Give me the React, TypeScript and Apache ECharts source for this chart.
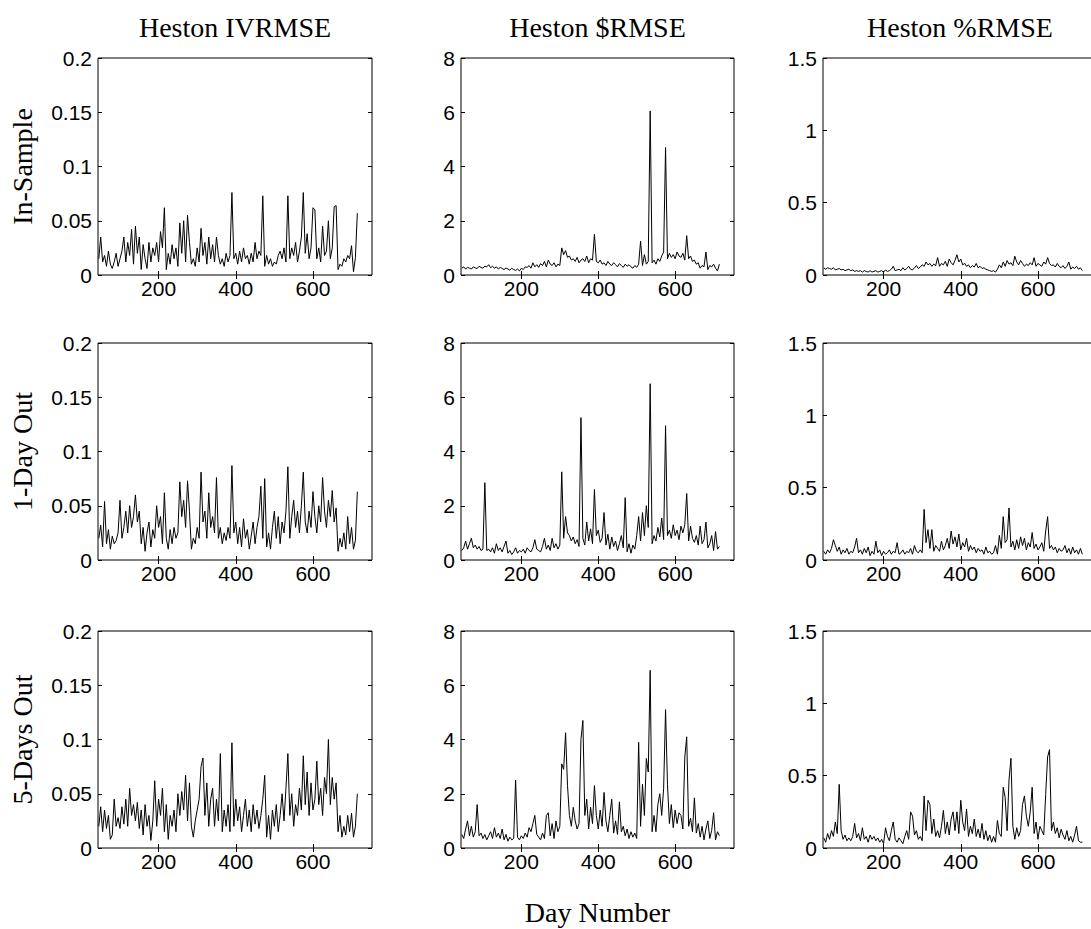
import React, { useEffect, useRef } from "react";
import * as echarts from "echarts";

// Sampled every DAY_STEP days starting at FIRST_DAY
const FIRST_DAY = 45;
const DAY_STEP = 5;
const X_MIN = 43;
const X_MAX = 753;
const X_TICKS = [200, 400, 600];

const COLUMN_TITLES = ["Heston IVRMSE", "Heston $RMSE", "Heston %RMSE"];
const ROW_NAMES = ["In-Sample", "1-Day Out", "5-Days Out"];
const Y_MAX = [0.2, 8, 1.5];
const Y_STEP = [0.05, 2, 0.5];

// Implied-volatility RMSE
const IV_IN_SAMPLE = [
  0.015, 0.035, 0.012, 0.018, 0.008, 0.022, 0.010, 0.006, 0.012, 0.020,
  0.008, 0.015, 0.022, 0.035, 0.012, 0.030, 0.018, 0.042, 0.010, 0.045,
  0.020, 0.035, 0.005, 0.028, 0.015, 0.006, 0.030, 0.012, 0.025, 0.018,
  0.030, 0.012, 0.040, 0.025, 0.062, 0.005, 0.020, 0.010, 0.028, 0.015,
  0.025, 0.008, 0.048, 0.020, 0.050, 0.012, 0.055, 0.030, 0.010, 0.015,
  0.008, 0.025, 0.012, 0.043, 0.018, 0.030, 0.010, 0.035, 0.015, 0.028,
  0.012, 0.035, 0.018, 0.010, 0.015, 0.008, 0.020, 0.012, 0.018, 0.076,
  0.015, 0.020, 0.010, 0.022, 0.012, 0.025, 0.015, 0.018, 0.010, 0.020,
  0.012, 0.030, 0.015, 0.022, 0.018, 0.073, 0.008, 0.018, 0.010, 0.015,
  0.008, 0.012, 0.010, 0.018, 0.022, 0.015, 0.025, 0.012, 0.073, 0.015,
  0.025, 0.018, 0.030, 0.012, 0.022, 0.035, 0.076, 0.020, 0.038, 0.015,
  0.025, 0.062, 0.060, 0.015, 0.025, 0.012, 0.045, 0.018, 0.022, 0.050,
  0.015, 0.025, 0.063, 0.064, 0.005, 0.010, 0.008, 0.015, 0.012, 0.018,
  0.015, 0.027, 0.003, 0.016, 0.057,
];
const IV_ONE_DAY = [
  0.020, 0.032, 0.012, 0.054, 0.015, 0.028, 0.010, 0.022, 0.015, 0.018,
  0.025, 0.055, 0.020, 0.030, 0.045, 0.025, 0.050, 0.030, 0.040, 0.060,
  0.035, 0.045, 0.015, 0.030, 0.008, 0.025, 0.035, 0.012, 0.028, 0.020,
  0.050, 0.030, 0.040, 0.015, 0.062, 0.020, 0.010, 0.028, 0.015, 0.030,
  0.020, 0.025, 0.072, 0.040, 0.055, 0.030, 0.073, 0.045, 0.010, 0.020,
  0.015, 0.030, 0.020, 0.081, 0.035, 0.045, 0.020, 0.062, 0.030, 0.040,
  0.025, 0.076, 0.020, 0.030, 0.015, 0.025, 0.018, 0.030, 0.020, 0.087,
  0.025, 0.035, 0.015, 0.030, 0.012, 0.038, 0.020, 0.028, 0.010, 0.022,
  0.035, 0.015, 0.030, 0.040, 0.068, 0.020, 0.075, 0.012, 0.025, 0.010,
  0.030, 0.045, 0.020, 0.040, 0.015, 0.035, 0.025, 0.045, 0.086, 0.020,
  0.040, 0.055, 0.030, 0.045, 0.025, 0.050, 0.081, 0.035, 0.025, 0.045,
  0.030, 0.063, 0.040, 0.025, 0.050, 0.035, 0.076, 0.045, 0.030, 0.055,
  0.040, 0.064, 0.035, 0.048, 0.008, 0.020, 0.012, 0.025, 0.010, 0.040,
  0.015, 0.030, 0.010, 0.018, 0.063,
];
const IV_FIVE_DAYS = [
  0.020, 0.038, 0.015, 0.035, 0.018, 0.030, 0.008, 0.012, 0.045, 0.020,
  0.028, 0.018, 0.038, 0.022, 0.045, 0.020, 0.055, 0.030, 0.040, 0.025,
  0.042, 0.018, 0.035, 0.012, 0.040, 0.020, 0.030, 0.007, 0.025, 0.062,
  0.020, 0.045, 0.030, 0.055, 0.015, 0.040, 0.008, 0.030, 0.020, 0.035,
  0.015, 0.050, 0.030, 0.052, 0.035, 0.067, 0.025, 0.060, 0.020, 0.010,
  0.025, 0.035, 0.045, 0.075, 0.083, 0.030, 0.060, 0.020, 0.045, 0.055,
  0.020, 0.045, 0.025, 0.087, 0.015, 0.035, 0.020, 0.040, 0.015, 0.097,
  0.020, 0.045, 0.025, 0.038, 0.015, 0.030, 0.045, 0.020, 0.035, 0.015,
  0.040, 0.022, 0.035, 0.018, 0.030, 0.045, 0.067, 0.010, 0.030, 0.008,
  0.035, 0.020, 0.040, 0.015, 0.030, 0.050, 0.025, 0.055, 0.087, 0.030,
  0.050, 0.020, 0.040, 0.030, 0.055, 0.035, 0.085, 0.040, 0.070, 0.030,
  0.060, 0.035, 0.045, 0.080, 0.040, 0.055, 0.030, 0.065, 0.050, 0.100,
  0.040, 0.065, 0.045, 0.060, 0.015, 0.030, 0.010, 0.020, 0.012, 0.030,
  0.015, 0.032, 0.010, 0.020, 0.050,
];

// Dollar RMSE
const DOLLAR_IN_SAMPLE = [
  0.25, 0.30, 0.22, 0.28, 0.25, 0.22, 0.30, 0.26, 0.24, 0.32,
  0.28, 0.25, 0.33, 0.30, 0.38, 0.27, 0.32, 0.25, 0.30, 0.22,
  0.28, 0.24, 0.20, 0.26, 0.22, 0.18, 0.25, 0.20, 0.17, 0.22,
  0.15, 0.25, 0.20, 0.30, 0.28, 0.35, 0.25, 0.45, 0.30, 0.38,
  0.28, 0.42, 0.35, 0.50, 0.30, 0.55, 0.40, 0.35, 0.45, 0.30,
  0.40, 0.35, 1.00, 0.75, 0.90, 0.65, 0.70, 0.55, 0.60, 0.50,
  0.65, 0.45, 0.55, 0.60, 0.50, 0.70, 0.45, 0.60, 0.55, 1.50,
  0.50, 0.45, 0.55, 0.40, 0.45, 0.35, 0.50, 0.40, 0.35, 0.45,
  0.38, 0.30, 0.42, 0.35, 0.28, 0.40, 0.32, 0.38, 0.30, 0.25,
  0.35, 0.28, 0.40, 1.25, 0.35, 0.75, 0.40, 0.50, 6.05, 0.45,
  0.55, 0.40, 0.60, 0.50, 0.70, 0.85, 4.70, 0.60, 0.80, 0.65,
  0.75, 0.60, 0.85, 0.70, 0.65, 0.80, 0.55, 1.45, 0.60, 0.70,
  0.50, 0.55, 0.40, 0.45, 0.25, 0.35, 0.30, 0.85, 0.20, 0.35,
  0.30, 0.40, 0.25, 0.15, 0.40,
];
const DOLLAR_ONE_DAY = [
  0.35, 0.45, 0.70, 0.40, 0.60, 0.80, 0.45, 0.55, 0.40, 0.50,
  0.35, 0.40, 2.85, 0.35, 0.40, 0.30, 0.45, 0.25, 0.60, 0.35,
  0.45, 0.30, 0.50, 0.70, 0.25, 0.35, 0.20, 0.30, 0.45, 0.25,
  0.35, 0.30, 0.40, 0.25, 0.45, 0.35, 0.30, 0.45, 0.75, 0.40,
  0.35, 0.30, 0.50, 0.80, 0.40, 0.55, 0.35, 0.80, 0.45, 0.60,
  0.40, 0.55, 3.25, 0.80, 1.60, 1.00, 0.90, 0.70, 0.85, 0.60,
  0.75, 0.50, 5.25, 0.80, 0.55, 1.40, 0.70, 1.15, 0.60, 2.60,
  0.90, 1.10, 0.65, 0.80, 1.75, 0.55, 0.95, 0.40, 0.85, 0.50,
  0.70, 0.35, 0.60, 0.90, 0.45, 2.30, 0.30, 0.60, 0.25, 0.55,
  0.40, 0.90, 1.60, 0.70, 1.75, 0.90, 2.00, 1.20, 6.50, 0.60,
  0.90, 0.70, 1.20, 0.85, 1.55, 0.75, 4.95, 0.90, 1.10, 0.80,
  1.30, 0.90, 1.10, 0.75, 1.25, 1.00, 1.30, 2.45, 0.70, 1.25,
  0.80, 0.65, 0.90, 0.55, 1.25, 0.60, 0.75, 1.40, 0.45, 0.60,
  0.90, 0.35, 1.05, 0.40, 0.50,
];
const DOLLAR_FIVE_DAYS = [
  0.50, 0.35, 0.70, 1.00, 0.45, 0.80, 0.40, 0.60, 1.60, 0.45,
  0.55, 0.35, 0.50, 0.30, 0.45, 0.60, 0.35, 0.75, 0.40, 0.55,
  0.35, 0.70, 0.30, 0.50, 0.25, 0.40, 0.30, 0.35, 2.50, 0.40,
  0.30, 0.45, 0.35, 0.55, 0.40, 0.75, 0.60, 0.90, 1.20, 0.50,
  0.40, 0.30, 0.55, 0.35, 1.20, 1.30, 0.45, 0.90, 0.35, 1.00,
  0.60, 0.80, 3.10, 2.90, 4.25, 2.30, 1.20, 0.80, 1.50, 1.00,
  0.70, 0.90, 4.00, 4.70, 1.20, 1.80, 0.70, 1.50, 0.90, 2.30,
  1.20, 0.70, 1.40, 0.80, 2.05, 1.00, 0.60, 1.20, 1.80, 0.55,
  1.00, 0.50, 1.70, 0.60, 0.80, 0.45, 0.70, 0.35, 0.60, 0.40,
  0.55, 0.35, 3.90, 0.80, 2.35, 1.20, 3.30, 2.80, 6.55, 0.60,
  1.20, 0.60, 1.60, 2.00, 1.20, 2.20, 5.10, 2.35, 0.90, 1.60,
  0.75, 1.40, 0.90, 1.30, 1.20, 0.70, 3.35, 4.10, 0.80, 1.10,
  0.60, 1.85, 0.55, 0.90, 0.40, 0.80, 0.30, 0.70, 1.00, 0.35,
  0.65, 1.30, 0.30, 0.60, 0.45,
];

// Percentage RMSE
const PCT_IN_SAMPLE = [
  0.05, 0.04, 0.05, 0.045, 0.04, 0.05, 0.035, 0.04, 0.045, 0.035,
  0.04, 0.03, 0.035, 0.04, 0.03, 0.035, 0.025, 0.03, 0.025, 0.03,
  0.02, 0.03, 0.025, 0.02, 0.03, 0.02, 0.025, 0.03, 0.02, 0.025,
  0.03, 0.02, 0.035, 0.025, 0.03, 0.04, 0.06, 0.03, 0.035, 0.04,
  0.03, 0.05, 0.035, 0.045, 0.06, 0.04, 0.035, 0.05, 0.065, 0.045,
  0.055, 0.07, 0.06, 0.09, 0.07, 0.08, 0.06, 0.075, 0.065, 0.12,
  0.06, 0.08, 0.07, 0.095, 0.06, 0.11, 0.085, 0.07, 0.10, 0.14,
  0.09, 0.11, 0.07, 0.08, 0.06, 0.07, 0.05, 0.065, 0.055, 0.08,
  0.05, 0.06, 0.045, 0.05, 0.04, 0.035, 0.03, 0.025, 0.03, 0.02,
  0.04, 0.07, 0.05, 0.09, 0.06, 0.10, 0.075, 0.085, 0.065, 0.13,
  0.09, 0.07, 0.10, 0.08, 0.06, 0.075, 0.065, 0.085, 0.07, 0.12,
  0.06, 0.08, 0.07, 0.06, 0.09, 0.075, 0.12, 0.08, 0.065, 0.07,
  0.055, 0.08, 0.06, 0.05, 0.065, 0.045, 0.06, 0.09, 0.04, 0.055,
  0.045, 0.06, 0.04, 0.05, 0.03,
];
const PCT_ONE_DAY = [
  0.06, 0.04, 0.07, 0.05, 0.08, 0.14, 0.10, 0.06, 0.09, 0.04,
  0.07, 0.05, 0.08, 0.04, 0.06, 0.05, 0.09, 0.15, 0.05, 0.07,
  0.04, 0.08, 0.05, 0.09, 0.03, 0.06, 0.04, 0.13, 0.05, 0.07,
  0.03, 0.06, 0.04, 0.05, 0.07, 0.04, 0.06, 0.05, 0.12, 0.04,
  0.05, 0.07, 0.04, 0.06, 0.05, 0.08, 0.04, 0.10, 0.06, 0.05,
  0.07, 0.05, 0.35, 0.12, 0.21, 0.08, 0.21, 0.06, 0.10, 0.08,
  0.06, 0.13, 0.07, 0.10, 0.15, 0.08, 0.20, 0.11, 0.16, 0.09,
  0.18, 0.07, 0.12, 0.09, 0.15, 0.06, 0.10, 0.07, 0.09, 0.05,
  0.08, 0.06, 0.07, 0.04, 0.09, 0.05, 0.06, 0.04, 0.05, 0.10,
  0.04, 0.17, 0.08, 0.30, 0.12, 0.14, 0.36, 0.09, 0.13, 0.07,
  0.14, 0.08, 0.16, 0.10, 0.15, 0.07, 0.12, 0.09, 0.19, 0.08,
  0.11, 0.07, 0.09, 0.12, 0.06, 0.20, 0.30, 0.08, 0.10, 0.07,
  0.09, 0.05, 0.08, 0.06, 0.07, 0.10, 0.05, 0.08, 0.04, 0.09,
  0.05, 0.07, 0.04, 0.08, 0.04,
];
const PCT_FIVE_DAYS = [
  0.07, 0.04, 0.10, 0.06, 0.12, 0.08, 0.18, 0.10, 0.44, 0.12,
  0.06, 0.09, 0.05, 0.07, 0.05, 0.08, 0.17, 0.07, 0.10, 0.05,
  0.14, 0.06, 0.08, 0.04, 0.09, 0.06, 0.08, 0.05, 0.07, 0.04,
  0.06, 0.03, 0.14, 0.08, 0.05, 0.12, 0.18, 0.06, 0.04, 0.07,
  0.05, 0.03, 0.08, 0.12, 0.06, 0.25, 0.22, 0.09, 0.12, 0.06,
  0.08, 0.05, 0.36, 0.12, 0.33, 0.30, 0.10, 0.20, 0.08, 0.12,
  0.07, 0.15, 0.26, 0.10, 0.18, 0.09, 0.20, 0.25, 0.12, 0.25,
  0.10, 0.33, 0.18, 0.12, 0.27, 0.08, 0.15, 0.10, 0.20, 0.08,
  0.13, 0.07, 0.17, 0.06, 0.12, 0.05, 0.09, 0.04, 0.08, 0.04,
  0.19, 0.10, 0.08, 0.42, 0.35, 0.12, 0.47, 0.62, 0.15, 0.06,
  0.14, 0.08, 0.12, 0.30, 0.36, 0.22, 0.15, 0.25, 0.42, 0.10,
  0.18, 0.06, 0.15, 0.12, 0.09, 0.37, 0.63, 0.68, 0.12, 0.18,
  0.10, 0.14, 0.07, 0.13, 0.09, 0.06, 0.12, 0.05, 0.08, 0.04,
  0.09, 0.15, 0.05, 0.04, 0.04,
];

const PANEL_SERIES = [
  [IV_IN_SAMPLE, DOLLAR_IN_SAMPLE, PCT_IN_SAMPLE],
  [IV_ONE_DAY, DOLLAR_ONE_DAY, PCT_ONE_DAY],
  [IV_FIVE_DAYS, DOLLAR_FIVE_DAYS, PCT_FIVE_DAYS],
];

// Panel placement in pixels
const COL_LEFT = [98, 461, 823];
const COL_WIDTH = [274, 273, 274];
const ROW_TOP = [58, 343, 631];
const PANEL_HEIGHT = 217;

const SANS = "'Liberation Sans', Arial, sans-serif";
const SERIF = "'Liberation Serif', 'Times New Roman', serif";

function buildOption() {
  const grid: any[] = [];
  const xAxis: any[] = [];
  const yAxis: any[] = [];
  const series: any[] = [];
  const graphic: any[] = [];

  const tick = { inside: true, length: 4, lineStyle: { color: "#000", width: 1 } };

  for (let r = 0; r < 3; r++) {
    for (let c = 0; c < 3; c++) {
      const g = grid.length;
      grid.push({
        left: COL_LEFT[c],
        top: ROW_TOP[r],
        width: COL_WIDTH[c],
        height: PANEL_HEIGHT,
        show: true,
        borderColor: "#000",
        borderWidth: 1,
        backgroundColor: "#fff",
      });
      const xBase = {
        type: "value",
        gridIndex: g,
        min: X_MIN,
        max: X_MAX,
        axisLine: { show: false },
        splitLine: { show: false },
        axisTick: { ...tick, customValues: X_TICKS },
      };
      xAxis.push({
        ...xBase,
        position: "bottom",
        axisLabel: {
          customValues: X_TICKS,
          color: "#000",
          fontFamily: SANS,
          fontSize: 21,
          margin: 3,
        },
      });
      xAxis.push({ ...xBase, position: "top", axisLabel: { show: false } });

      const yBase = {
        type: "value",
        gridIndex: g,
        min: 0,
        max: Y_MAX[c],
        interval: Y_STEP[c],
        axisLine: { show: false },
        splitLine: { show: false },
        axisTick: tick,
      };
      yAxis.push({
        ...yBase,
        position: "left",
        axisLabel: { color: "#000", fontFamily: SANS, fontSize: 21, margin: 6 },
      });
      yAxis.push({ ...yBase, position: "right", axisLabel: { show: false } });

      const values = PANEL_SERIES[r][c];
      series.push({
        type: "line",
        xAxisIndex: 2 * g,
        yAxisIndex: 2 * g,
        data: values.map((v, i) => [FIRST_DAY + i * DAY_STEP, v]),
        showSymbol: false,
        symbol: "none",
        lineStyle: { color: "#000", width: 1 },
        silent: true,
      });
    }
  }

  COLUMN_TITLES.forEach((t, c) => {
    graphic.push({
      type: "text",
      x: COL_LEFT[c] + COL_WIDTH[c] / 2,
      y: 27,
      style: {
        text: t,
        fill: "#000",
        font: `28px ${SERIF}`,
        align: "center",
        verticalAlign: "middle",
      },
    });
  });

  ROW_NAMES.forEach((t, r) => {
    graphic.push({
      type: "text",
      x: 22,
      y: ROW_TOP[r] + PANEL_HEIGHT / 2,
      rotation: Math.PI / 2,
      style: {
        text: t,
        fill: "#000",
        font: `28px ${SERIF}`,
        align: "center",
        verticalAlign: "middle",
      },
    });
  });

  graphic.push({
    type: "text",
    x: COL_LEFT[1] + COL_WIDTH[1] / 2,
    y: 912,
    style: {
      text: "Day Number",
      fill: "#000",
      font: `28px ${SERIF}`,
      align: "center",
      verticalAlign: "middle",
    },
  });

  return {
    animation: false,
    backgroundColor: "#fff",
    grid,
    xAxis,
    yAxis,
    series,
    graphic,
  };
}

export default function App() {
  const ref = useRef<HTMLDivElement>(null);

  useEffect(() => {
    if (!ref.current) return;
    const chart = echarts.init(ref.current, undefined, { renderer: "svg" });
    chart.setOption(buildOption());
    return () => chart.dispose();
  }, []);

  return (
    <div
      style={{
        position: "fixed",
        left: 0,
        top: 0,
        width: 1091,
        height: 929,
        overflow: "hidden",
        background: "#fff",
      }}
    >
      <div ref={ref} style={{ width: 1100, height: 929 }} />
    </div>
  );
}
